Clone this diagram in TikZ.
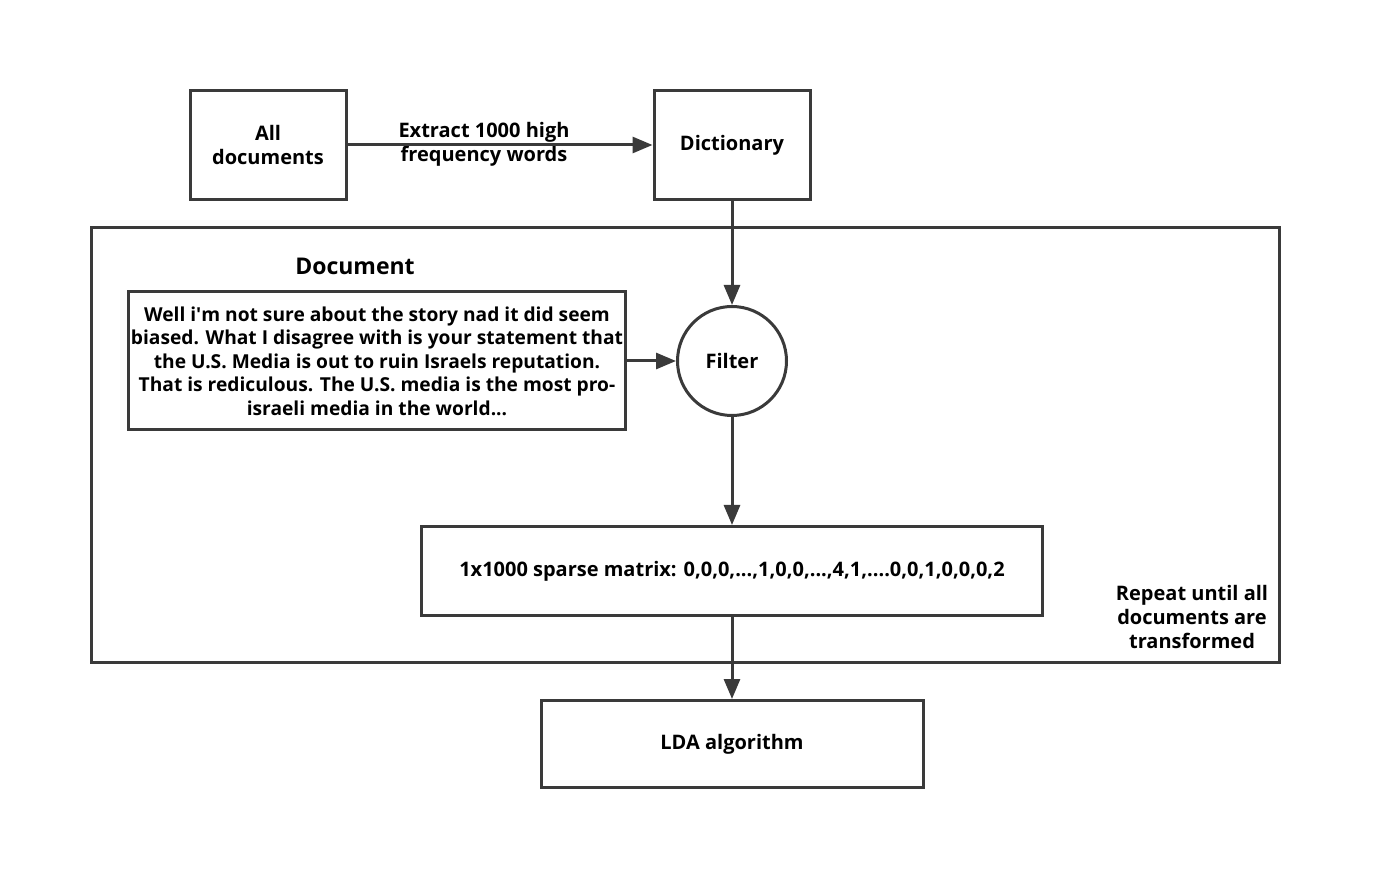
\documentclass[tikz,border=0pt]{standalone}
\usepackage{fontspec}
\setmainfont{Open Sans}
\usetikzlibrary{arrows.meta}
\definecolor{linegray}{HTML}{3A3A3A}
\tikzstyle{plain box}=[
        draw = linegray,
        line width = 1.5pt,
        fill = white,
        font = \bfseries,
        align = center,
        inner sep = 0pt
    ]
\tikzstyle{flow}=[
    draw = linegray,
    line width = 1.5pt,
    -{Triangle[length=10pt,width=8pt]}
]

\begin{document}
\begin{tikzpicture}[x=0.5pt, y=-0.5pt, font=\fontsize{10}{11.75}\selectfont]
        \useasboundingbox (0,0) rectangle (1397,881);
        \draw[linegray, line width = 1.5pt] (91,228) rectangle (1279,662);

        \node[plain box, minimum width = 78pt, minimum height = 54.5pt] (all) at (268,145) {All\\documents};
        \node[plain box, minimum width = 78pt, minimum height = 54.5pt] (dict) at (732,145) {Dictionary};
        \node[plain box, circle, minimum size = 54.5pt] (filter) at (732,361) {Filter};
        \node[plain box, minimum width = 248.5pt, minimum height = 69pt, font = \fontsize{9.6}{11.75}\selectfont\bfseries] (doc) at (377,361) {Well i\textquotesingle m not sure about the story nad it did seem\\biased. What I disagree with is your statement that\\the U.S. Media is out to ruin Israels reputation.\\That is rediculous. The U.S. media is the most pro-\\israeli media in the world...};
        \node[font = \fontsize{11.5}{13}\selectfont\bfseries] (doctitle) at (355,266) {Document};
        \node[plain box, minimum width = 310.5pt, minimum height = 44.5pt] (matrix) at (732,571) {1x1000 sparse matrix: 0,0,0,...,1,0,0,...,4,1,....0,0,1,0,0,0,2};
        \node[plain box, minimum width = 191pt, minimum height = 43.5pt] (lda) at (732,744) {LDA algorithm};
        \node[font = \bfseries, align = center] (repeat) at (1192,617) {Repeat until all\\documents are\\transformed};
        \node[font = \bfseries, align = center] (extract) at (484,144) {Extract 1000 high\\frequency words};

        \draw[flow] (all) -- (dict);
        \draw[flow] (dict) -- (filter);
        \draw[flow] (doc) -- (filter);
        \draw[flow] (filter) -- (matrix);
        \draw[flow] (matrix) -- (lda);

    \end{tikzpicture}
\end{document}
